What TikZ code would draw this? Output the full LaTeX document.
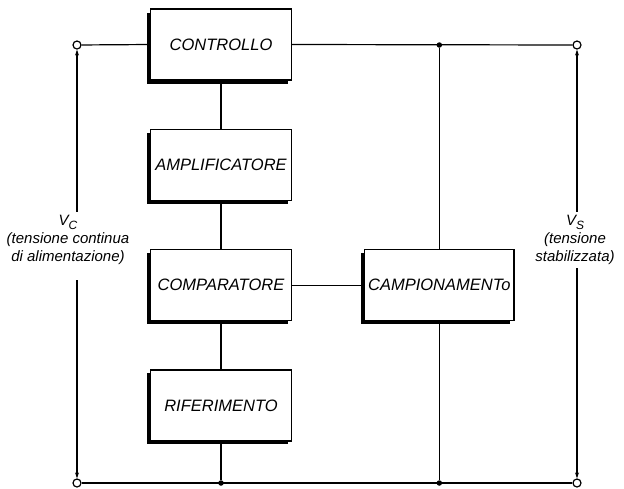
\documentclass[tikz,border=0pt]{standalone}
\usepackage{fontspec}
\setmainfont{Liberation Sans}
\usetikzlibrary{arrows.meta, positioning, shadows}

\newcommand{\subidx}[1]{\raisebox{-0.45ex}{\fontsize{12}{14}\selectfont #1}}

\begin{document}
\begin{tikzpicture}[
    x=1pt, y=-1pt,
    node distance=48pt,
    block/.style={rectangle, draw, fill=white, line width=1.3pt, minimum width=141pt, minimum height=71pt, font=\fontsize{16.5}{19}\selectfont\itshape, drop shadow={shadow xshift=-3.5pt, shadow yshift=-3.5pt, fill=black, opacity=1}},
    wire/.style={line width=1.2pt},
    term/.style={circle, draw, fill=white, line width=1.2pt, inner sep=0pt, minimum size=8pt},
    dot/.style={circle, fill, inner sep=0pt, minimum size=5.5pt},
    volt/.style={align=center, font=\fontsize{15}{18}\selectfont\itshape},
    arrow/.style={-{Stealth[length=6pt, width=4pt]}, line width=1.2pt}
]
    \useasboundingbox (0,0) rectangle (624,488);

    % regulator chain
    \node[block] (ctrl) at (221,44.5) {CONTROLLO};
    \node[block, below=of ctrl] (ampl) {AMPLIFICATORE};
    \node[block, below=of ampl] (comp) {COMPARATORE};
    \node[block, below=of comp] (rif) {RIFERIMENTO};
    \node[block, right=72pt of comp] (camp) {CAMPIONAMENTo};

    % input and output terminals
    \node[term] (tl) at (77,45) {};
    \node[term] (tr) at (577,45) {};
    \node[term] (bl) at (77,483) {};
    \node[term] (br) at (577,483) {};

    % junctions
    \node[dot] (jt) at (camp |- tr) {};
    \node[dot] (jr) at (rif |- bl) {};
    \node[dot] (jc) at (camp |- bl) {};

    % voltages
    \node[volt] (vc) at (68,240) {V\subidx{C}\\(tensione continua\\di alimentazione)};
    \node[volt] (vs) at (575,240) {V\subidx{S}\\(tensione\\stabilizzata)};

    \draw[wire] (tl) -- (ctrl.west);
    \draw[wire] (ctrl.east) -- (tr);
    \draw[wire] (ctrl) -- (ampl);
    \draw[wire] (ampl) -- (comp);
    \draw[wire] (comp) -- (rif);
    \draw[wire] (comp) -- (camp);
    \draw[wire] (camp) -- (jt);
    \draw[wire] (camp) -- (jc);
    \draw[wire] (rif) -- (jr);
    \draw[wire] (bl) -- (br);

    \draw[arrow] (vc.north -| tl) -- (tl);
    \draw[arrow, shorten <=12pt] (vc.south -| bl) -- (bl);
    \draw[arrow] (vs.north -| tr) -- (tr);
    \draw[arrow] (vs.south -| br) -- (br);
\end{tikzpicture}
\end{document}
